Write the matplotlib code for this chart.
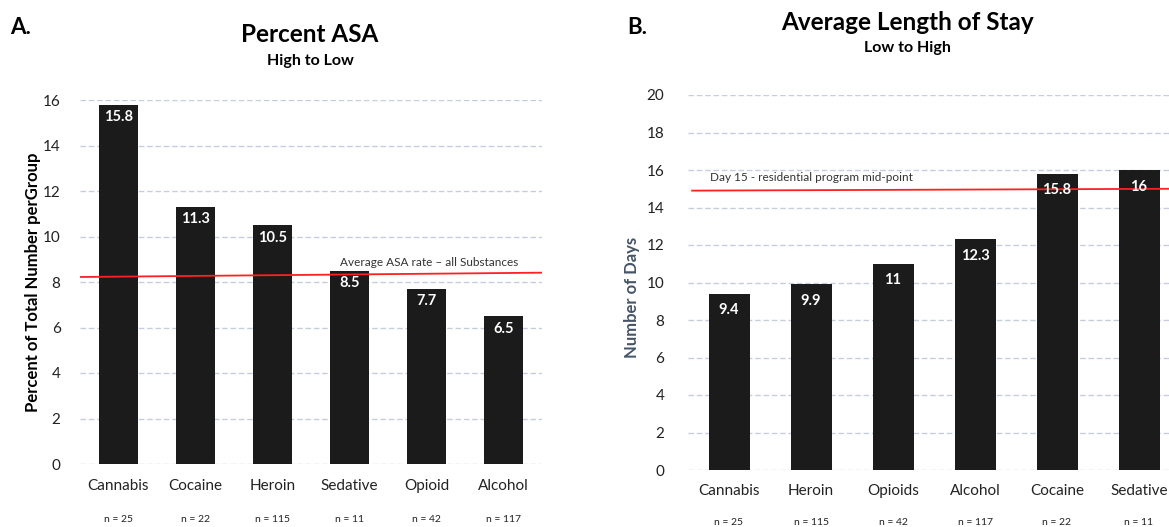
import matplotlib
matplotlib.use("Agg")
import matplotlib.pyplot as plt

plt.rcParams['font.family'] = ['Lato', 'DejaVu Sans']

# Panel A data
a_categories = ["Cannabis", "Cocaine", "Heroin", "Sedative", "Opioid", "Alcohol"]
a_values = [15.8, 11.3, 10.5, 8.5, 7.7, 6.5]
a_n = ["n = 25", "n = 22", "n = 115", "n = 11", "n = 42", "n = 117"]
a_avg_line = [8.22, 8.41]
a_yticks = [0, 2, 4, 6, 8, 10, 12, 14, 16]

# Panel B data
b_categories = ["Cannabis", "Heroin", "Opioids", "Alcohol", "Cocaine", "Sedative"]
b_values = [9.4, 9.9, 11, 12.3, 15.8, 16]
b_labels = ["9.4", "9.9", "11", "12.3", "15.8", "16"]
b_n = ["n = 25", "n = 115", "n = 42", "n = 117", "n = 22", "n = 11"]
b_midpoint_line = [14.9, 15.0]
b_yticks = [0, 2, 4, 6, 8, 10, 12, 14, 16, 18, 20]

W, H = 1169, 527
fig = plt.figure(figsize=(W / 100, H / 100), dpi=100)

def px_axes(left, top, right, bottom):
    return fig.add_axes([left / W, 1 - bottom / H, (right - left) / W, (bottom - top) / H])

bar_color = "#1b1b1b"
grid_color = "#c5cede"

def style(ax, ylim, yticks, tickpad):
    ax.set_ylim(*ylim)
    ax.set_yticks(yticks)
    ax.set_xlim(-0.5, 5.5)
    for s in ax.spines.values():
        s.set_visible(False)
    ax.tick_params(axis='both', length=0, labelsize=11, colors="#222222")
    ax.tick_params(axis='y', pad=tickpad)
    ax.yaxis.grid(True, color=grid_color, linestyle=(0, (4, 2)), linewidth=1.0)
    ax.set_axisbelow(True)

# ---------- Panel A ----------
axA = px_axes(80, 100, 542, 464)
xa = range(len(a_categories))
axA.bar(xa, a_values, width=0.5, color=bar_color, zorder=2)
style(axA, (0, 16), a_yticks, 14)
axA.set_xticks(list(xa))
axA.set_xticklabels(a_categories, fontsize=11)
axA.tick_params(axis='x', pad=11)
for i, v in enumerate(a_values):
    axA.annotate(f"{v}", (i, v), xytext=(0, -9), textcoords='offset points',
                 ha='center', va='center', color='white', fontsize=10.5, fontweight='bold', zorder=4)
for i, n in enumerate(a_n):
    axA.annotate(n, (i, 0), xycoords=('data', 'axes fraction'), xytext=(0, -40),
                 textcoords='offset points', ha='center', va='center', fontsize=7.5, color="#222222")
axA.plot([-0.5, 5.5], a_avg_line, color="#ff2020", linewidth=1.3, zorder=3)
axA.text(2.88, 8.85, "Average ASA rate \u2013 all Substances", fontsize=8.5, color="#333333",
         ha='left', va='center', zorder=5)
axA.set_ylabel("Percent of Total Number perGroup", fontsize=12, fontweight='bold')
axA.yaxis.set_label_coords(-0.085, 0.5)

# ---------- Panel B ----------
axB = px_axes(688, 95, 1180, 470)
xb = range(len(b_categories))
axB.bar(xb, b_values, width=0.5, color=bar_color, zorder=2)
style(axB, (0, 20), b_yticks, 17)
axB.set_xticks(list(xb))
axB.set_xticklabels(b_categories, fontsize=11)
axB.tick_params(axis='x', pad=10)
for i, (v, lab) in enumerate(zip(b_values, b_labels)):
    axB.annotate(lab, (i, v), xytext=(0, -12), textcoords='offset points',
                 ha='center', va='center', color='white', fontsize=10.5, fontweight='bold', zorder=4)
for i, n in enumerate(b_n):
    axB.annotate(n, (i, 0), xycoords=('data', 'axes fraction'), xytext=(0, -38),
                 textcoords='offset points', ha='center', va='center', fontsize=7.5, color="#222222")
axB.plot([-0.45, 5.5], b_midpoint_line, color="#ff2020", linewidth=1.3, zorder=3)
axB.text(-0.23, 15.6, "Day 15 - residential program mid-point", fontsize=8.5, color="#333333",
         ha='left', va='center', zorder=5)
axB.set_ylabel("Number of Days", fontsize=12, fontweight='bold', color="#44546a")
axB.yaxis.set_label_coords(-0.097, 0.46)

# ---------- Titles ----------
fig.text(10 / W, 1 - 27 / H, "A.", fontsize=16, fontweight='bold', ha='left', va='center')
fig.text(310 / W, 1 - 35 / H, "Percent ASA", fontsize=17.5, fontweight='bold', ha='center', va='center')
fig.text(310 / W, 1 - 61 / H, "High to Low", fontsize=11.5, fontweight='bold', ha='center', va='center')
fig.text(627 / W, 1 - 28 / H, "B.", fontsize=16, fontweight='bold', ha='left', va='center')
fig.text(907 / W, 1 - 22 / H, "Average Length of Stay", fontsize=17.5, fontweight='bold', ha='center', va='center')
fig.text(907 / W, 1 - 48 / H, "Low to High", fontsize=11.5, fontweight='bold', ha='center', va='center')

fig.savefig("out.png", dpi=100)
